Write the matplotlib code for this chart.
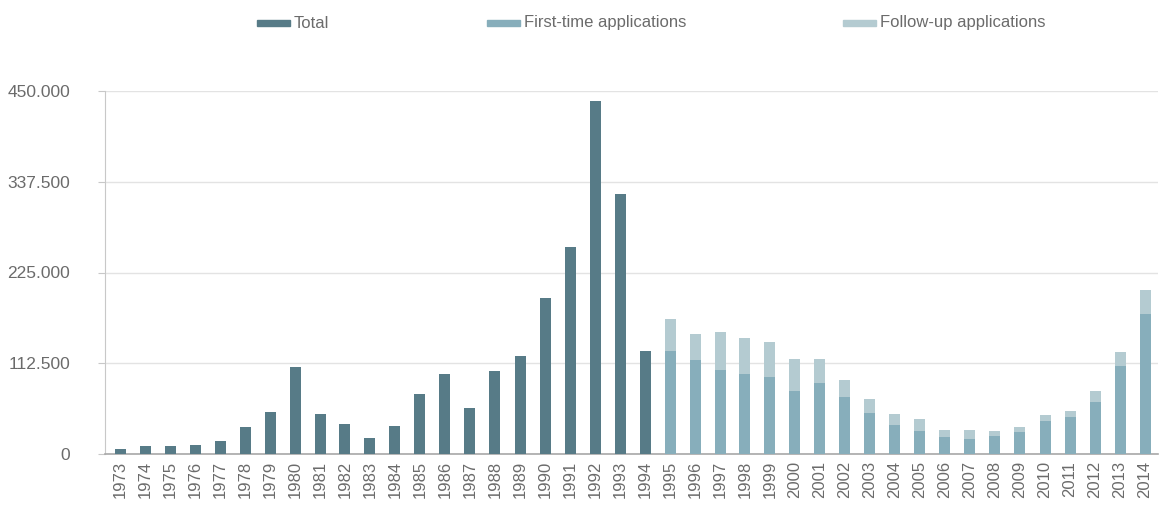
import matplotlib
matplotlib.use("Agg")
import matplotlib.pyplot as plt
from matplotlib.patches import Rectangle
import numpy as np

plt.rcParams['font.family'] = ['Liberation Sans Narrow', 'Liberation Sans', 'DejaVu Sans']

years = list(range(1973, 2015))

# Annual totals before the split into first-time / follow-up applications
total_years = list(range(1973, 1995))
total = [5595, 9424, 9627, 11123, 16410, 33136, 51493, 107818, 49391, 37423,
         19737, 35278, 73832, 99650, 57379, 103076, 121318, 193063, 256112,
         438191, 322599, 127210]

split_years = list(range(1995, 2015))
first_time = [127937, 116367, 104353, 98644, 95113, 78564, 88287, 71127, 50563,
              35607, 28914, 21029, 19164, 22085, 27649, 41332, 45741, 64539,
              109580, 173072]
follow_up = [39014, 32826, 47347, 44785, 43206, 39084, 30019, 20344, 17285,
             14545, 13994, 9071, 11139, 5933, 5384, 7257, 7606, 13112,
             17443, 29762]

y_ticks = [0, 112500, 225000, 337500, 450000]
y_tick_labels = ["0", "112.500", "225.000", "337.500", "450.000"]

c_total = "#577b87"
c_first = "#87aebb"
c_follow = "#b4cbd1"
c_text = "#6b6b6b"

fig = plt.figure(figsize=(11.59, 5.07), dpi=100)
ax = fig.add_axes([105 / 1159, 53 / 507, 1053 / 1159, 363 / 507])

pos = {y: i for i, y in enumerate(years)}
w = 0.44
ax.bar([pos[y] for y in total_years], total, width=w, color=c_total, zorder=3)
xs = [pos[y] for y in split_years]
ax.bar(xs, first_time, width=w, color=c_first, zorder=3)
ax.bar(xs, follow_up, width=w, bottom=first_time, color=c_follow, zorder=3)

ax.set_xlim(-0.6, len(years) - 0.48)
ax.set_ylim(0, 450000)
ax.set_yticks(y_ticks)
ax.set_yticklabels(y_tick_labels)
ax.set_xticks(range(len(years)))
ax.set_xticklabels([str(y) for y in years], rotation=90)

ax.grid(axis='y', color="#e3e3e3", linewidth=1, zorder=0)
for s in ['top', 'right']:
    ax.spines[s].set_visible(False)
ax.spines['left'].set_color("#c8c8c8")
ax.spines['bottom'].set_color("#a8a8a8")
ax.spines['bottom'].set_linewidth(1.2)
ax.tick_params(axis='y', length=5, color="#c8c8c8", labelsize=12.5,
               labelcolor=c_text, pad=20)
ax.tick_params(axis='x', length=0, labelsize=12, labelcolor=c_text, pad=5)
for lbl in ax.get_yticklabels():
    lbl.set_horizontalalignment('right')

# Legend row across the top
legend_items = [("Total", c_total, 257), ("First-time applications", c_first, 487),
                ("Follow-up applications", c_follow, 843)]
for label, col, x0 in legend_items:
    fig.patches.append(Rectangle((x0 / 1159, (507 - 26) / 507), 33 / 1159, 6 / 507,
                                 transform=fig.transFigure, color=col))
    fig.text((x0 + 37) / 1159, (507 - 23) / 507, label, fontsize=12,
             color=c_text, va='center', ha='left')

fig.savefig("out.png", dpi=100, facecolor='white')
